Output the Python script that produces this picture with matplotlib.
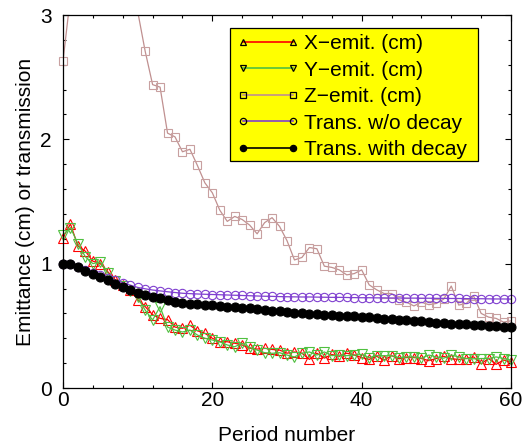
"""Emittance and transmission versus period number."""

import matplotlib

matplotlib.use("Agg")
import matplotlib.pyplot as plt
import numpy as np
from matplotlib.lines import Line2D
from matplotlib.legend_handler import HandlerLine2D
from matplotlib.patches import Rectangle
from matplotlib.ticker import MultipleLocator

period = list(range(61))

x_emit = [1.21, 1.32, 1.14, 1.10, 1.02, 1.00, 0.935, 0.87, 0.83, 0.79,
          0.71, 0.655, 0.59, 0.56, 0.55, 0.49, 0.48, 0.505, 0.46, 0.44,
          0.40, 0.372, 0.372, 0.36, 0.346, 0.32, 0.313, 0.32, 0.31, 0.305,
          0.28, 0.29, 0.28, 0.23, 0.28, 0.24, 0.27, 0.255, 0.28, 0.265,
          0.245, 0.23, 0.255, 0.225, 0.26, 0.235, 0.245, 0.245, 0.237, 0.22,
          0.237, 0.255, 0.235, 0.23, 0.237, 0.25, 0.195, 0.237, 0.19, 0.225,
          0.21]
y_emit = [1.23, 1.29, 1.16, 1.055, 1.00, 1.015, 0.925, 0.86, 0.82, 0.78,
          0.73, 0.627, 0.547, 0.654, 0.49, 0.466, 0.45, 0.466, 0.426, 0.40,
          0.386, 0.372, 0.346, 0.332, 0.359, 0.327, 0.305, 0.284, 0.279, 0.284,
          0.265, 0.25, 0.28, 0.29, 0.265, 0.29, 0.26, 0.265, 0.26, 0.265,
          0.27, 0.245, 0.26, 0.26, 0.26, 0.245, 0.25, 0.25, 0.24, 0.265,
          0.25, 0.24, 0.265, 0.25, 0.237, 0.235, 0.237, 0.237, 0.25, 0.237,
          0.225]
z_emit = [2.63, 3.15, 3.6, 3.9, 4.0, 3.9, 3.8, 3.6, 3.4, 3.2,
          3.03, 2.71, 2.44, 2.42, 2.05, 2.02, 1.90, 1.92, 1.79, 1.65,
          1.57, 1.43, 1.34, 1.38, 1.355, 1.31, 1.24, 1.33, 1.37, 1.30,
          1.185, 1.03, 1.05, 1.13, 1.12, 0.98, 0.97, 0.95, 0.91, 0.92,
          0.95, 0.83, 0.79, 0.76, 0.76, 0.71, 0.69, 0.66, 0.69, 0.67,
          0.68, 0.715, 0.82, 0.667, 0.68, 0.74, 0.60, 0.57, 0.56, 0.53,
          0.54]
trans_no_decay = [1.0, 0.995, 0.975, 0.952, 0.927, 0.908, 0.887, 0.868, 0.846, 0.828,
                  0.809, 0.798, 0.788, 0.781, 0.774, 0.768, 0.762, 0.759, 0.756, 0.754,
                  0.752, 0.750, 0.748, 0.746, 0.744, 0.742, 0.740, 0.738, 0.737, 0.735,
                  0.734, 0.733, 0.732, 0.732, 0.731, 0.730, 0.729, 0.729, 0.728, 0.727,
                  0.726, 0.726, 0.725, 0.725, 0.724, 0.724, 0.723, 0.723, 0.722, 0.722,
                  0.721, 0.721, 0.720, 0.720, 0.719, 0.718, 0.718, 0.717, 0.716, 0.716,
                  0.715]
trans_decay = [1.0, 0.994, 0.97, 0.94, 0.913, 0.893, 0.868, 0.838, 0.814, 0.79,
               0.765, 0.748, 0.731, 0.72, 0.705, 0.695, 0.686, 0.679, 0.673, 0.669,
               0.665, 0.66, 0.655, 0.65, 0.645, 0.64, 0.634, 0.628, 0.622, 0.616,
               0.61, 0.606, 0.602, 0.598, 0.594, 0.59, 0.586, 0.583, 0.579, 0.576,
               0.573, 0.568, 0.563, 0.558, 0.553, 0.548, 0.543, 0.539, 0.535, 0.53,
               0.525, 0.522, 0.518, 0.515, 0.511, 0.508, 0.504, 0.501, 0.497, 0.494,
               0.49]

labels = ["X\u2212emit. (cm)", "Y\u2212emit. (cm)", "Z\u2212emit. (cm)",
          "Trans. w/o decay", "Trans. with decay"]

plt.rcParams["font.family"] = ["Liberation Sans", "DejaVu Sans"]
plt.rcParams["font.size"] = 15

YMAX = 3.0

# (values, line colour, marker, marker edge, marker face, marker size)
series = [
    (x_emit, "#ff0000", "^", "#ff0000", "none", 7.0),
    (y_emit, "#50c040", "v", "#50c040", "none", 7.0),
    (z_emit, "#c09090", "s", "#c8a0a0", "none", 5.5),
    (trans_no_decay, "#8040d0", "o", "#8040d0", "none", 6.0),
    (trans_decay, "#000000", "o", "#000000", "#000000", 6.5),
]

fig = plt.figure(figsize=(5.24, 4.48), dpi=100)
ax = fig.add_axes([63 / 524, 60 / 448, 448 / 524, 373 / 448])

xs = np.array(period)
for z, (vals, lc, mk, mec, mfc, ms) in enumerate(series):
    ys = np.array(vals)
    ax.plot(xs, ys, color=lc, lw=0.9, zorder=2 + z * 0.1)
    keep = ys <= YMAX
    ax.plot(xs[keep], ys[keep], ls="none", marker=mk, ms=ms, mec=mec, mfc=mfc,
            mew=0.8, clip_on=False, zorder=2 + z * 0.1)

ax.set_xlim(0, 60)
ax.set_ylim(0, YMAX)
ax.xaxis.set_major_locator(MultipleLocator(20))
ax.xaxis.set_minor_locator(MultipleLocator(4))
ax.yaxis.set_major_locator(MultipleLocator(1))
ax.yaxis.set_minor_locator(MultipleLocator(0.2))
ax.tick_params(which="both", direction="in", top=True, right=True, width=0.8)
ax.tick_params(which="major", length=4.5)
ax.tick_params(which="minor", length=2.2)
ax.tick_params(axis="x", pad=2)
ax.tick_params(axis="y", pad=8)
for sp in ax.spines.values():
    sp.set_linewidth(0.9)

ax.set_xlabel("Period number", labelpad=12)
ax.set_ylabel("Emittance (cm) or transmission", labelpad=4)

# legend box drawn by hand so its padding matches the original
box = Rectangle((0.373, 0.608), 0.554, 0.356, transform=ax.transAxes,
                facecolor="#ffff00", edgecolor="black", lw=0.9, zorder=4)
ax.add_patch(box)

handles = []
for vals, lc, mk, mec, mfc, ms in series:
    face = "black" if mfc != "none" else "none"
    handles.append(Line2D([], [], color=lc, lw=1.2, marker=mk, ms=4.5,
                          mec="black", mfc=face, mew=0.9))
leg = ax.legend(handles, labels, loc="upper left", bbox_to_anchor=(0.401, 0.949),
                frameon=False, borderpad=0, borderaxespad=0, numpoints=2,
                handlelength=2.4, handletextpad=0.55, labelspacing=0.36,
                handler_map={Line2D: HandlerLine2D(marker_pad=0)})
leg.set_zorder(5)

fig.savefig("out.png", dpi=100)
